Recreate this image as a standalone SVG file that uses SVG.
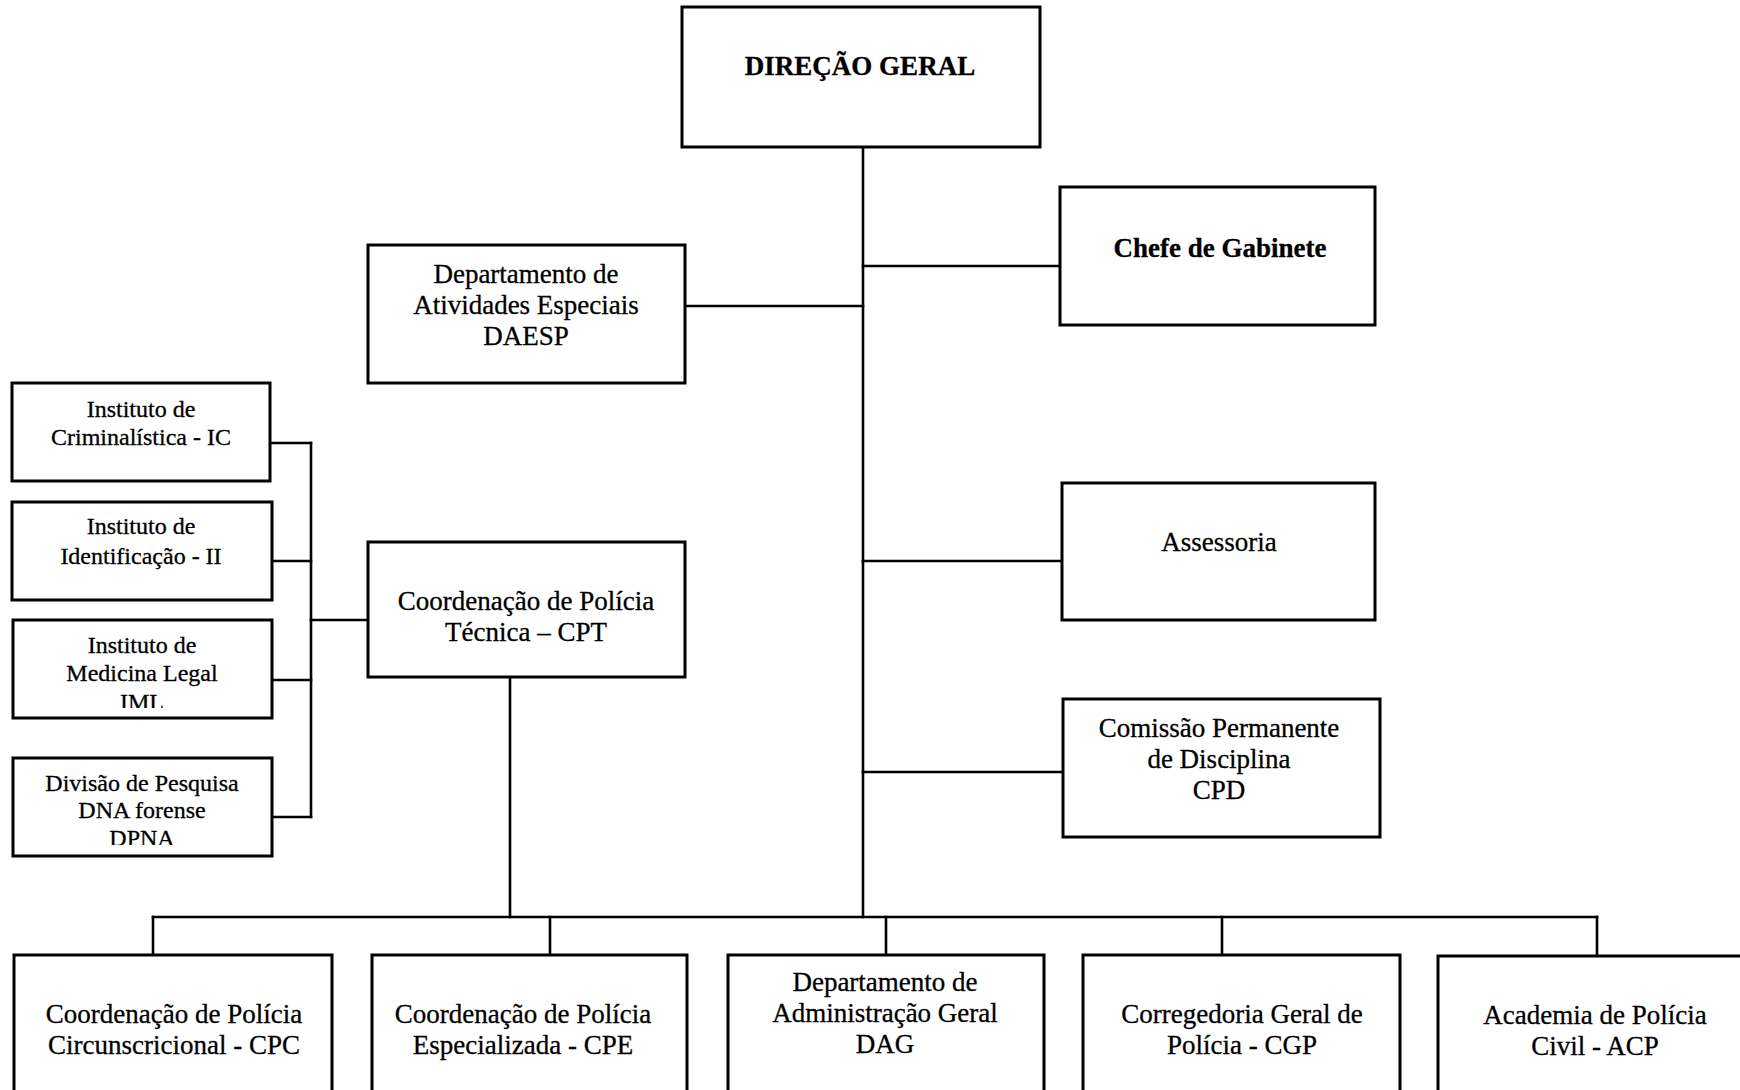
<svg xmlns="http://www.w3.org/2000/svg" width="1740" height="1090" viewBox="0 0 1740 1090">
  <style>
    .box { fill: #ffffff; stroke: #000000; stroke-width: 3; }
    .link { fill: none; stroke: #000000; stroke-width: 2.6; stroke-linecap: square; }
    text { font-family: "Liberation Serif", "Times New Roman", serif; fill: #000000; stroke: #000000; stroke-width: 0.3; text-anchor: middle; }
    .t27 { font-size: 27px; }
    .t24 { font-size: 24px; }
    .bold { font-weight: bold; }
  </style>
  <defs>
    <clipPath id="clip-iml"><rect x="13" y="620" width="259" height="88"/></clipPath>
    <clipPath id="clip-dpna"><rect x="13" y="758" width="259" height="87"/></clipPath>
  </defs>
  <rect width="1740" height="1090" fill="#ffffff"/>

  <!-- connectors -->
  <g id="connectors">
    <path class="link" d="M863 147 V917"/>
    <path class="link" d="M685 306 H863"/>
    <path class="link" d="M863 266 H1060"/>
    <path class="link" d="M863 561 H1062"/>
    <path class="link" d="M863 772 H1063"/>
    <path class="link" d="M311 443 V817"/>
    <path class="link" d="M270 443 H311"/>
    <path class="link" d="M272 561 H311"/>
    <path class="link" d="M272 680 H311"/>
    <path class="link" d="M272 817 H311"/>
    <path class="link" d="M311 620 H368"/>
    <path class="link" d="M510 677 V917"/>
    <path class="link" d="M153 917 H1597"/>
    <path class="link" d="M153 917 V955"/>
    <path class="link" d="M550 917 V955"/>
    <path class="link" d="M886 917 V955"/>
    <path class="link" d="M1222 917 V955"/>
    <path class="link" d="M1597 917 V956"/>
  </g>

  <g id="direcao-geral">
    <rect class="box" x="682" y="7" width="358" height="140"/>
    <text class="t27 bold" x="860" y="75">DIREÇÃO GERAL</text>
  </g>

  <g id="daesp">
    <rect class="box" x="368" y="245" width="317" height="138"/>
    <text class="t27" x="526" y="283">Departamento de</text>
    <text class="t27" x="526" y="314">Atividades Especiais</text>
    <text class="t27" x="526" y="345">DAESP</text>
  </g>

  <g id="chefe-gabinete">
    <rect class="box" x="1060" y="187" width="315" height="138"/>
    <text class="t27 bold" x="1220" y="257">Chefe de Gabinete</text>
  </g>

  <g id="assessoria">
    <rect class="box" x="1062" y="483" width="313" height="137"/>
    <text class="t27" x="1219" y="551">Assessoria</text>
  </g>

  <g id="cpd">
    <rect class="box" x="1063" y="699" width="317" height="138"/>
    <text class="t27" x="1219" y="737">Comissão Permanente</text>
    <text class="t27" x="1219" y="768">de Disciplina</text>
    <text class="t27" x="1219" y="799">CPD</text>
  </g>

  <g id="cpt">
    <rect class="box" x="368" y="542" width="317" height="135"/>
    <text class="t27" x="526" y="610">Coordenação de Polícia</text>
    <text class="t27" x="526" y="641">Técnica – CPT</text>
  </g>

  <g id="ic">
    <rect class="box" x="12" y="383" width="258" height="98"/>
    <text class="t24" x="141" y="417">Instituto de</text>
    <text class="t24" x="141" y="445">Criminalística - IC</text>
  </g>

  <g id="ii">
    <rect class="box" x="12" y="502" width="260" height="98"/>
    <text class="t24" x="141" y="534">Instituto de</text>
    <text class="t24" x="141" y="564">Identificação - II</text>
  </g>

  <g id="iml">
    <rect class="box" x="13" y="620" width="259" height="98"/>
    <text class="t24" x="142" y="653">Instituto de</text>
    <text class="t24" x="142" y="681">Medicina Legal</text>
    <text class="t24" x="142" y="710" clip-path="url(#clip-iml)">IML</text>
  </g>

  <g id="dpna">
    <rect class="box" x="13" y="758" width="259" height="98"/>
    <text class="t24" x="142" y="791">Divisão de Pesquisa</text>
    <text class="t24" x="142" y="818">DNA forense</text>
    <text class="t24" x="142" y="846" clip-path="url(#clip-dpna)">DPNA</text>
  </g>

  <g id="cpc">
    <rect class="box" x="14" y="955" width="318" height="145"/>
    <text class="t27" x="174" y="1023">Coordenação de Polícia</text>
    <text class="t27" x="174" y="1054">Circunscricional - CPC</text>
  </g>

  <g id="cpe">
    <rect class="box" x="372" y="955" width="315" height="145"/>
    <text class="t27" x="523" y="1023">Coordenação de Polícia</text>
    <text class="t27" x="523" y="1054">Especializada - CPE</text>
  </g>

  <g id="dag">
    <rect class="box" x="728" y="955" width="316" height="145"/>
    <text class="t27" x="885" y="991">Departamento de</text>
    <text class="t27" x="885" y="1022">Administração Geral</text>
    <text class="t27" x="885" y="1053">DAG</text>
  </g>

  <g id="cgp">
    <rect class="box" x="1083" y="955" width="317" height="145"/>
    <text class="t27" x="1242" y="1023">Corregedoria Geral de</text>
    <text class="t27" x="1242" y="1054">Polícia - CGP</text>
  </g>

  <g id="acp">
    <rect class="box" x="1438" y="956" width="322" height="145"/>
    <text class="t27" x="1595" y="1024">Academia de Polícia</text>
    <text class="t27" x="1595" y="1055">Civil - ACP</text>
  </g>
</svg>
